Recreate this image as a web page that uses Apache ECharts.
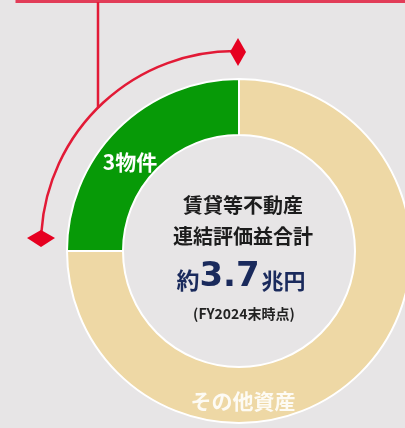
<!DOCTYPE html>
<html>
<head>
<meta charset="utf-8">
<script src="https://cdn.jsdelivr.net/npm/echarts@6/dist/echarts.min.js"></script>
<style>
  html, body { margin: 0; padding: 0; background: #e7e5e6; }
  #chart { width: 405px; height: 428px; }
</style>
</head>
<body>
<div id="chart"></div>
<script>
// Portfolio split of rental real-estate valuation gains
const categories = ['3物件', 'その他資産'];
const shares = [25, 75];
const sliceColors = ['#079a07', '#eed8a5'];

// Caption in the hole of the ring
const captionLines = ['賃貸等不動産', '連結評価益合計'];
const totalPrefix = '約';
const totalValue = '3.7';
const totalUnit = '兆円';
const asOfNote = '(FY2024末時点)';

const JP = '"Noto Sans CJK JP", "Noto Sans", sans-serif';
const RED = '#e21a36';
const DIAMOND = '#e60020';

const chart = echarts.init(document.getElementById('chart'), null, { renderer: 'canvas' });

const labelOffsets = [[-5, 15], [-100, 46]];

chart.setOption({
  animation: false,
  backgroundColor: '#e7e5e6',
  series: [{
    type: 'pie',
    center: [239, 251],
    radius: [116, 172],
    startAngle: 90,
    clockwise: false,
    silent: true,
    itemStyle: { borderColor: '#ffffff', borderWidth: 2 },
    labelLine: { show: false },
    data: categories.map((name, i) => ({
      name,
      value: shares[i],
      itemStyle: { color: sliceColors[i] },
      label: {
        show: true,
        position: 'inside',
        formatter: '{b}',
        color: i === 0 ? '#ffffff' : 'rgba(255,255,255,0.88)',
        fontFamily: JP,
        fontWeight: 'bold',
        fontSize: 21,
        offset: labelOffsets[i]
      }
    }))
  }],
  graphic: [
    // frame edge along the top
    { type: 'polyline', shape: { points: [[17, 0], [17, 1.5], [405, 1.5]] },
      style: { stroke: '#e23c58', lineWidth: 3, fill: null } },
    // connector down to the bracket arc
    { type: 'line', shape: { x1: 98, y1: 2, x2: 98, y2: 108 },
      style: { stroke: RED, lineWidth: 2.5 } },
    // bracket arc spanning the green slice
    { type: 'arc',
      shape: { cx: 235, cy: 245, r: 194,
               startAngle: 184 * Math.PI / 180, endAngle: 270.5 * Math.PI / 180, clockwise: true },
      style: { stroke: RED, lineWidth: 2.5, fill: null } },
    { type: 'polygon', shape: { points: [[238, 38], [246, 52], [238, 66], [230, 52]] },
      style: { fill: DIAMOND } },
    { type: 'polygon', shape: { points: [[27, 238], [41, 230], [55, 238], [41, 247]] },
      style: { fill: DIAMOND } },
    // caption
    { type: 'text', x: 243, y: 205,
      style: { text: captionLines[0], align: 'center', verticalAlign: 'middle',
               font: 'bold 20px ' + JP, fill: '#1c1c1c' } },
    { type: 'text', x: 243, y: 236,
      style: { text: captionLines[1], align: 'center', verticalAlign: 'middle',
               font: 'bold 20px ' + JP, fill: '#1c1c1c' } },
    { type: 'text', x: 241, y: 277,
      style: {
        text: '{p|' + totalPrefix + '}{v|' + totalValue + '}{u|' + totalUnit + '}',
        align: 'center', verticalAlign: 'middle',
        rich: {
          p: { fontFamily: JP, fontWeight: 'bold', fontSize: 23, fill: '#1a2a5c', verticalAlign: 'bottom', padding: [0, 0, 2, 0] },
          v: { fontFamily: '"DejaVu Sans", sans-serif', fontWeight: 'bold', fontSize: 34, fill: '#1a2a5c', verticalAlign: 'bottom' },
          u: { fontFamily: JP, fontWeight: 'bold', fontSize: 22, fill: '#1a2a5c', verticalAlign: 'bottom', padding: [0, 0, 2, 2] }
        }
      } },
    { type: 'text', x: 244, y: 314,
      style: { text: asOfNote, align: 'center', verticalAlign: 'middle',
               font: 'bold 14px ' + JP, fill: '#222222' } }
  ]
});
</script>
</body>
</html>
